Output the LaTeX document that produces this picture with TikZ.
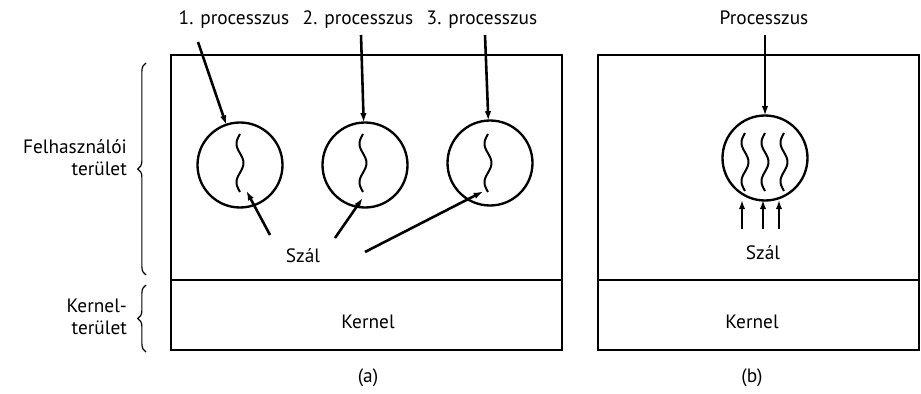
\documentclass[tikz,border=0pt]{standalone}
\usepackage{fontspec}
\setmainfont{PT Sans}
\usetikzlibrary{arrows.meta,decorations.pathreplacing}

\begin{document}
\begin{tikzpicture}[x=0.03cm, y=-0.03cm, >={Latex[length=8pt, width=5.5pt]},
    font=\fontsize{16.5}{19}\selectfont,
    box/.style={line width=2.5pt},
    proc/.style={circle, draw, line width=2pt, minimum size=2.55cm, inner sep=0pt},
    thread/.style={line width=1.7pt},
    pointer/.style={->, line width=2.2pt, shorten >=-1pt},
    brace/.style={decorate, line width=1pt,
        decoration={brace, amplitude=7pt}}]
    \useasboundingbox (0, 0) rectangle (921, 394);

    % one wavy thread, 58 units long, hanging down from (#1, #2)
    \def\szal#1#2{\draw[thread] plot[domain=0:58, samples=40, smooth, variable=\t]
        ({#1 - 3.5*sin(9.31*\t)}, {#2 + \t});}

    % (a): three processes, one thread each
    \draw[box] (171, 55) rectangle (562, 350);
    \draw[box] (171, 280) -- (562, 280);

    \node (l1) at (234, 20) {1. processzus};
    \node (l2) at (358, 20) {2. processzus};
    \node (l3) at (482, 20) {3. processzus};

    \node[proc] (p1) at (240, 165) {};
    \node[proc] (p2) at (365, 165) {};
    \node[proc] (p3) at (490, 163) {};

    \coordinate (a1) at (198, 42);
    \coordinate (a2) at (361, 35);
    \coordinate (a3) at (485, 35);
    \draw[pointer] (a1) -- (p1);
    \draw[pointer] (a2) -- (p2);
    \draw[pointer] (a3) -- (p3);

    \szal{240}{134}
    \szal{363}{134}
    \szal{488}{134}

    \node (sza) at (303, 256) {Szál};
    \coordinate (s1) at (270, 235);
    \coordinate (s2) at (335, 238);
    \coordinate (s3) at (365, 252);
    \draw[pointer] (s1) -- (247, 192);
    \draw[pointer] (s2) -- (362, 199);
    \draw[pointer] (s3) -- (482, 192);

    \node (ka) at (368, 322) {Kernel};
    \node (capa) at (368, 378) {(a)};

    % space labels with braces
    \draw[brace] (146, 275) -- (146, 63);
    \draw[brace] (146, 352) -- (146, 285);
    \node[anchor=east, align=right] (user) at (131, 158) {Felhasználói\\terület};
    \node[anchor=east, align=right] (kern) at (131, 317) {Kernel-\\terület};

    % (b): one process, three threads
    \draw[box] (598, 55) -- (598, 350) -- (919, 350) -- (919, 55) -- cycle;
    \draw[box] (598, 280) -- (919, 280);

    \node (lb) at (764, 18) {Processzus};
    \node[proc] (pb) at (765, 158) {};
    \coordinate (ab) at (765, 35);
    \draw[pointer] (ab) -- (pb);

    \foreach \x in {745, 765, 784} {
        \szal{\x}{133}
    }

    \node (szb) at (763, 253) {Szál};
    \foreach \x [count=\i] in {742, 763, 779} {
        \coordinate (u\i) at (\x, 229);
        \draw[pointer] (u\i) -- (\x, 201);
    }

    \node (kb) at (752, 322) {Kernel};
    \node (capb) at (752, 378) {(b)};
\end{tikzpicture}
\end{document}
